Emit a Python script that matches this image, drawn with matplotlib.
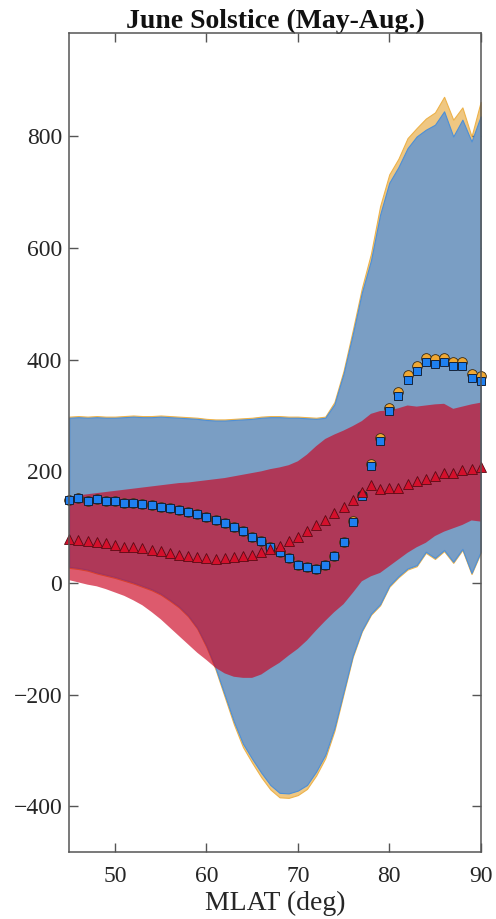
import matplotlib
matplotlib.use("Agg")
import matplotlib.pyplot as plt
import numpy as np

# ---------------- data ----------------
mlat = list(range(45, 91))

blue_mean = [148, 152, 147, 150, 146, 146, 143, 143, 141, 140, 136, 134, 130, 127, 123, 118,
             112, 108, 101, 93, 83, 76, 65, 55, 45, 32, 28, 25, 32, 48, 73,
             109, 155, 209, 255, 308, 335, 364, 380, 395, 393, 395, 388, 388, 367, 362]
orange_mean = [148, 152, 147, 150, 146, 146, 143, 143, 141, 140, 136, 134, 130, 127, 123, 118,
               112, 108, 101, 93, 83, 76, 65, 55, 45, 32, 28, 25, 32, 48, 74,
               111, 158, 213, 260, 314, 342, 372, 388, 403, 401, 403, 396, 396, 375, 370]
red_mean = [78, 77, 75, 73, 71, 68, 65, 64, 62, 59, 57, 54, 51, 49, 46, 45,
            43, 45, 46, 48, 50, 55, 60, 66, 75, 82, 93, 103, 112, 126, 137,
            149, 163, 175, 168, 171, 171, 178, 182, 186, 191, 197, 197, 203, 205, 208]

blue_upper = [296, 297, 296, 297, 296, 296, 297, 298, 297, 297, 298, 297, 296, 295, 294, 292,
              291, 291, 292, 293, 294, 296, 297, 297, 296, 296, 295, 294, 296, 320, 375,
              445, 520, 578, 660, 717, 745, 779, 800, 812, 821, 845, 800, 830, 791, 836]
orange_upper = [298, 299, 298, 299, 298, 298, 299, 300, 299, 299, 300, 299, 298, 297, 296, 294,
                293, 293, 294, 295, 296, 298, 299, 299, 298, 298, 297, 296, 298, 324, 380,
                452, 528, 590, 675, 732, 760, 797, 815, 832, 843, 871, 830, 852, 800, 862]
blue_lower = [29, 27, 24, 19, 15, 11, 6, 1, -5, -11, -19, -30, -42, -58, -80, -112,
              -152, -200, -248, -288, -315, -340, -362, -376, -377, -372, -362, -338, -308, -260, -195,
              -130, -85, -55, -38, -5, 12, 26, 32, 56, 45, 59, 38, 61, 18, 56]
orange_lower = [27, 25, 22, 17, 13, 9, 4, -1, -7, -13, -21, -32, -44, -60, -82, -115,
                -155, -204, -253, -294, -322, -348, -370, -384, -385, -380, -369, -345, -314, -265, -199,
                -133, -87, -57, -40, -7, 10, 24, 30, 54, 43, 57, 36, 59, 16, 54]
red_upper = [155, 157, 159, 161, 163, 165, 167, 169, 171, 173, 175, 177, 179, 180, 182, 184,
             186, 188, 191, 194, 197, 200, 204, 207, 211, 218, 230, 245, 258, 266, 273,
             281, 290, 303, 308, 309, 313, 318, 316, 318, 320, 321, 312, 316, 320, 323]
red_lower = [5, 1, -3, -6, -11, -17, -23, -31, -40, -52, -65, -80, -95, -110, -125, -138,
             -152, -162, -168, -170, -170, -164, -153, -143, -130, -118, -103, -85, -68, -52, -38,
             -18, 3, 12, 18, 30, 42, 54, 64, 72, 84, 92, 98, 104, 112, 110]

x_ticks = [50, 60, 70, 80, 90]
y_ticks = [-400, -200, 0, 200, 400, 600, 800]
title_text = "June Solstice (May-Aug.)"
xlabel_text = "MLAT (deg)"

# ---------------- figure ----------------
plt.rcParams['font.family'] = ['Liberation Serif', 'DejaVu Serif']

fig = plt.figure(figsize=(4.96, 9.19), dpi=100)
ax = fig.add_axes([0.1397, 0.0729, 0.8294, 0.891])

x = np.array(mlat)
ax.fill_between(x, orange_lower, orange_upper, facecolor='#EFC782', edgecolor='#EDB24A',
                linewidth=0.8, zorder=1)
ax.fill_between(x, blue_lower, blue_upper, facecolor='#7A9EC4', edgecolor='#4D8FD6',
                linewidth=0.8, zorder=2)
ax.fill_between(x, red_lower, red_upper, facecolor='#CC021F', edgecolor='none',
                alpha=0.65, linewidth=0, zorder=3)

ax.plot(x, orange_mean, linestyle='none', marker='o', markersize=7,
        markerfacecolor='#F0A833', markeredgecolor='#3A2A10', markeredgewidth=0.6,
        zorder=4, clip_on=False)
ax.plot(x, blue_mean, linestyle='none', marker='s', markersize=6.3,
        markerfacecolor='#1F80F0', markeredgecolor='#15233A', markeredgewidth=0.7,
        zorder=5, clip_on=False)
ax.plot(x, red_mean, linestyle='none', marker='^', markersize=7.5,
        markerfacecolor='#D4102C', markeredgecolor='#5A0A14', markeredgewidth=0.6,
        zorder=6, clip_on=False)

ax.set_xlim(45, 90)
ax.set_ylim(-482, 985)
ax.set_xticks(x_ticks)
ax.set_yticks(y_ticks)

ax.tick_params(direction='in', length=6.5, width=1.0, colors='#555555',
               labelcolor='#262626', labelsize=17, top=True, right=True)
ax.tick_params(axis='x', pad=10)
ax.tick_params(axis='y', pad=5)
for s in ax.spines.values():
    s.set_color('#555555')
    s.set_linewidth(1.1)
    s.set_zorder(10)

ax.set_title(title_text, fontsize=20, fontweight='bold', pad=4, color='#111111')
ax.set_xlabel(xlabel_text, fontsize=20, labelpad=3, color='#262626')

fig.savefig('out.png', dpi=100)
